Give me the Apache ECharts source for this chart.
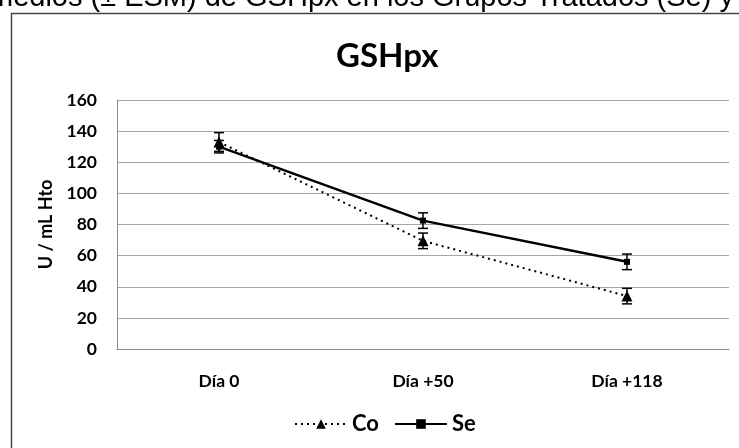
<!DOCTYPE html>
<html>
<head>
<meta charset="utf-8">
<script src="https://cdn.jsdelivr.net/npm/echarts@6/dist/echarts.min.js"></script>
<style>
html,body{margin:0;padding:0;background:#fff;}
#c{width:739px;height:448px;}
</style>
</head>
<body>
<div id="c"></div>
<script>
var categories = ['Día 0', 'Día +50', 'Día +118'];
var coValues = [133, 69.5, 34];
var coErr = [6, 5, 5];
var seValues = [130, 82.5, 56];
var seErr = [4, 5, 5];
var yTicks = [0, 20, 40, 60, 80, 100, 120, 140, 160];

var FONT = 'Lato, "Open Sans", sans-serif';
var chart = echarts.init(document.getElementById('c'), null, {renderer: 'canvas'});

function errSeries(name, vals, errs) {
  var data = vals.map(function (v, i) { return [i, v - errs[i], v + errs[i]]; });
  return {
    type: 'custom',
    name: name + '_err',
    data: data,
    z: 3,
    renderItem: function (params, api) {
      var lo = api.coord([api.value(0), api.value(1)]);
      var hi = api.coord([api.value(0), api.value(2)]);
      var w = 5;
      var st = {stroke: '#000', lineWidth: 1.5};
      return {
        type: 'group',
        children: [
          {type: 'line', shape: {x1: lo[0], y1: lo[1], x2: hi[0], y2: hi[1]}, style: st},
          {type: 'line', shape: {x1: lo[0] - w, y1: lo[1], x2: lo[0] + w, y2: lo[1]}, style: st},
          {type: 'line', shape: {x1: hi[0] - w, y1: hi[1], x2: hi[0] + w, y2: hi[1]}, style: st}
        ]
      };
    }
  };
}

chart.setOption({
  animation: false,
  backgroundColor: '#fff',
  graphic: [
    {type: 'text', left: -11, top: -17, style: {text: 'medios (± ESM) de GSHpx en los Grupos Tratados (Se) y', font: '29px "Liberation Sans", Arial, sans-serif', fill: '#000'}},
    {type: 'rect', shape: {x: 11.5, y: 13.5, width: 760, height: 460}, style: {fill: 'none', stroke: '#444', lineWidth: 1.5}, z: -1}
  ],
  title: {
    text: 'GSHpx',
    left: 331,
    top: 35,
    textStyle: {fontFamily: FONT, fontWeight: 'bold', fontSize: 33, color: '#000'}
  },
  grid: {left: 117, right: 10, top: 100, bottom: 99, containLabel: false},
  legend: {
    bottom: 8,
    left: 289,
    itemWidth: 52,
    itemHeight: 12,
    itemGap: 15,
    data: ['Co', 'Se'],
    textStyle: {fontFamily: FONT, fontWeight: 'bold', fontSize: 22, color: '#000'}
  },
  xAxis: {
    type: 'category',
    data: categories,
    boundaryGap: true,
    axisLine: {lineStyle: {color: '#8c8c8c', width: 1}},
    axisTick: {show: false},
    axisLabel: {margin: 23, fontFamily: FONT, fontWeight: 'bold', fontSize: 17.5, color: '#000'}
  },
  yAxis: {
    type: 'value',
    min: yTicks[0],
    max: yTicks[yTicks.length - 1],
    interval: 20,
    name: 'U / mL Hto',
    nameLocation: 'middle',
    nameGap: 58,
    nameTextStyle: {fontFamily: FONT, fontWeight: 'bold', fontSize: 18, color: '#000'},
    axisLine: {show: true, lineStyle: {color: '#8c8c8c', width: 1}},
    axisTick: {show: false},
    axisLabel: {margin: 20, fontFamily: FONT, fontWeight: 'bold', fontSize: 17.5, color: '#000'},
    splitLine: {lineStyle: {color: '#a6a6a6', width: 1.2}}
  },
  series: [
    {
      name: 'Co', type: 'line', data: coValues, z: 4,
      symbol: 'triangle', symbolSize: 11,
      lineStyle: {color: '#000', width: 2, type: [2, 4]},
      itemStyle: {color: '#000'}
    },
    {
      name: 'Se', type: 'line', data: seValues, z: 5,
      symbol: 'rect', symbolSize: 6,
      lineStyle: {color: '#000', width: 2.5, type: 'solid'},
      itemStyle: {color: '#000'}
    },
    errSeries('Co', coValues, coErr),
    errSeries('Se', seValues, seErr)
  ]
});
</script>
</body>
</html>
